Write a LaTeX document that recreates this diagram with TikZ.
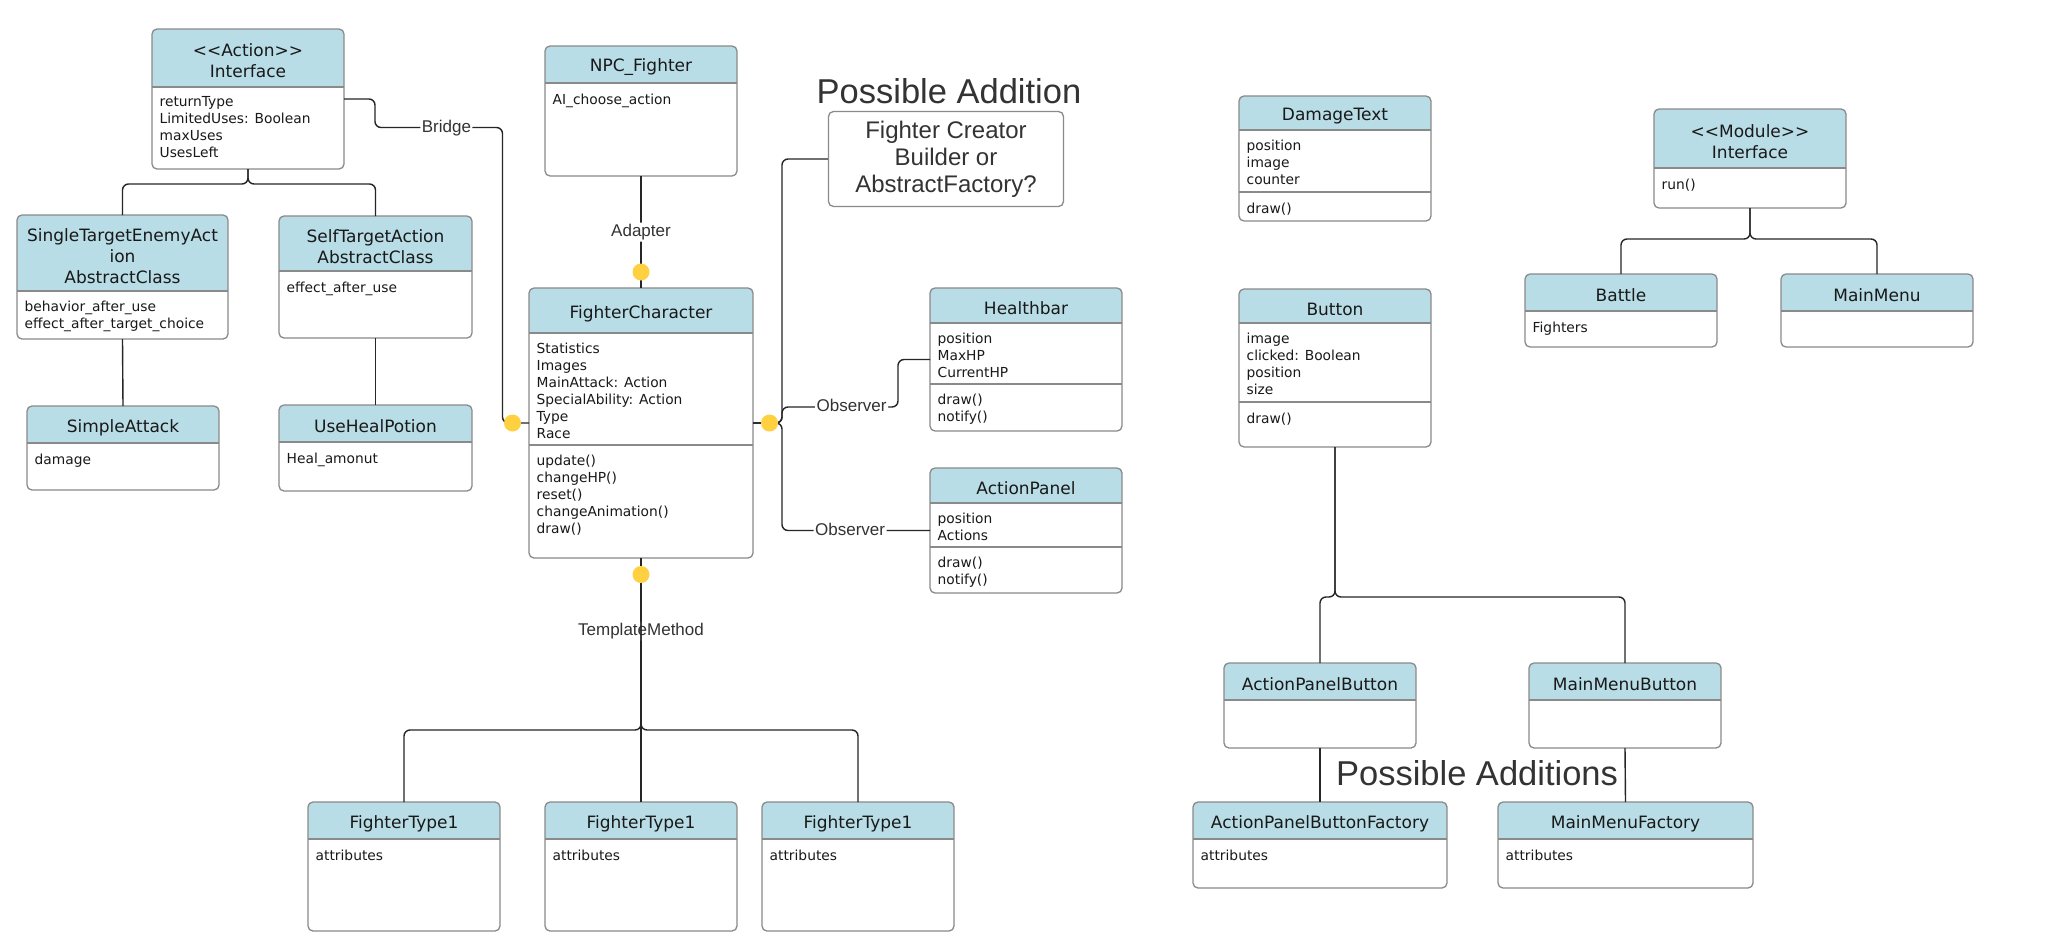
\documentclass[tikz,border=0pt]{standalone}
\usepackage{fontspec}
\setmainfont{DejaVu Sans}
\newfontfamily\labelfont{Liberation Sans}
\usepackage{tikz}

\definecolor{headblue}{HTML}{B8DDE6}
\definecolor{boxgray}{HTML}{8A8A8A}
\definecolor{dotyellow}{HTML}{FFD03F}
\definecolor{labelgray}{HTML}{333333}

\tikzset{
  classbox/.style={rectangle, anchor=north west, inner sep=0pt, outer sep=0pt, fill=white},
  classline/.style={draw=boxgray, line width=1.3pt},
  classname/.style={font=\fontsize{17}{21}\selectfont, align=center, inner sep=0pt, text=black!90},
  members/.style={font=\fontsize{13.8}{17}\selectfont, align=left, inner sep=0pt, anchor=north west, text=black!90, execute at begin node=\strut},
  conn/.style={draw=black!85, line width=1.4pt, rounded corners=6pt},
  joint/.style={circle, fill=dotyellow, minimum size=17pt, inner sep=0pt},
  patname/.style={font=\labelfont\fontsize{17}{20}\selectfont, text=labelgray, fill=white, inner sep=1.5pt, text height=12.5pt, text depth=3.5pt},
  bigtext/.style={font=\labelfont\fontsize{34.5}{40}\selectfont, text=labelgray, inner sep=0pt}
}

\newcommand{\umlclass}[6]{%
  \node[classbox, minimum width=#3pt, minimum height=#4pt] (#1) at (#2) {};
  \begin{scope}
    \clip[rounded corners=5pt] (#1.north west) rectangle (#1.south east);
    \fill[headblue] (#1.north west) rectangle ([yshift=-#5pt]#1.north east);
  \end{scope}
  \draw[classline] ([yshift=-#5pt]#1.north west) coordinate (#1-body) -- ([yshift=-#5pt]#1.north east);
  \draw[classline, rounded corners=5pt] (#1.north west) rectangle (#1.south east);
  \node[classname] at ([yshift=-#5pt/2-3pt]#1.north) {#6};
}
\newcommand{\umldivider}[2]{%
  \draw[classline] ([yshift=-#2pt]#1.north west) coordinate (#1-ops) -- ([yshift=-#2pt]#1.north east);
}

\begin{document}
\begin{tikzpicture}[x=1pt, y=-1pt]
  \fill[white] (0,0) rectangle (2065,935);
  \useasboundingbox (0,0) rectangle (2065,935);

  \umlclass{action}{152,29}{192}{140}{58}{<{}<Action>{}>\\Interface}
  \node[members] at ([shift={(7.5,9.5)}]action-body) {returnType\\LimitedUses: Boolean\\maxUses\\UsesLeft};
  \umlclass{single}{17,215}{211}{124}{76}{SingleTargetEnemyAct\\ion\\AbstractClass}
  \node[members] at ([shift={(7.5,9.5)}]single-body) {behavior\_after\_use\\effect\_after\_target\_choice};
  \umlclass{self}{279,216}{193}{122}{55}{SelfTargetAction\\AbstractClass}
  \node[members] at ([shift={(7.5,9.5)}]self-body) {effect\_after\_use};
  \umlclass{simple}{27,406}{192}{84}{37}{SimpleAttack}
  \node[members] at ([shift={(7.5,9.5)}]simple-body) {damage};
  \umlclass{heal}{279,405}{193}{86}{37}{UseHealPotion}
  \node[members] at ([shift={(7.5,9.5)}]heal-body) {Heal\_amonut};

  \umlclass{npc}{545,46}{192}{130}{37}{NPC\_Fighter}
  \node[members] at ([shift={(7.5,9.5)}]npc-body) {AI\_choose\_action};
  \umlclass{fighter}{529,288}{224}{270}{45}{FighterCharacter}
  \node[members] at ([shift={(7.5,9.5)}]fighter-body) {Statistics\\Images\\MainAttack: Action\\SpecialAbility: Action\\Type\\Race};
  \umldivider{fighter}{157}
  \node[members] at ([shift={(7.5,9.5)}]fighter-ops) {update()\\changeHP()\\reset()\\changeAnimation()\\draw()};

  \node[bigtext] (addition) at (949,91) {Possible Addition};
  \node[classline, rounded corners=5pt, minimum width=235pt, minimum height=95pt, inner sep=0pt,
    font=\labelfont\fontsize{24}{27}\selectfont, text=labelgray, align=center] (creator) at (946,159)
    {Fighter Creator\\Builder or\\AbstractFactory?};

  \umlclass{healthbar}{930,288}{192}{143}{35}{Healthbar}
  \node[members] at ([shift={(7.5,9.5)}]healthbar-body) {position\\MaxHP\\CurrentHP};
  \umldivider{healthbar}{96}
  \node[members] at ([shift={(7.5,9.5)}]healthbar-ops) {draw()\\notify()};
  \umlclass{actionpanel}{930,468}{192}{125}{35}{ActionPanel}
  \node[members] at ([shift={(7.5,9.5)}]actionpanel-body) {position\\Actions};
  \umldivider{actionpanel}{79}
  \node[members] at ([shift={(7.5,9.5)}]actionpanel-ops) {draw()\\notify()};

  \umlclass{type1}{308,802}{192}{129}{37}{FighterType1}
  \node[members] at ([shift={(7.5,9.5)}]type1-body) {attributes};
  \umlclass{type2}{545,802}{192}{129}{37}{FighterType1}
  \node[members] at ([shift={(7.5,9.5)}]type2-body) {attributes};
  \umlclass{type3}{762,802}{192}{129}{37}{FighterType1}
  \node[members] at ([shift={(7.5,9.5)}]type3-body) {attributes};

  \umlclass{damage}{1239,96}{192}{125}{34}{DamageText}
  \node[members] at ([shift={(7.5,9.5)}]damage-body) {position\\image\\counter};
  \umldivider{damage}{96}
  \node[members] at ([shift={(7.5,9.5)}]damage-ops) {draw()};
  \umlclass{button}{1239,289}{192}{158}{34}{Button}
  \node[members] at ([shift={(7.5,9.5)}]button-body) {image\\clicked: Boolean\\position\\size};
  \umldivider{button}{113}
  \node[members] at ([shift={(7.5,9.5)}]button-ops) {draw()};

  \umlclass{module}{1654,109}{192}{99}{59}{<{}<Module>{}>\\Interface}
  \node[members] at ([shift={(7.5,9.5)}]module-body) {run()};
  \umlclass{battle}{1525,274}{192}{73}{37}{Battle}
  \node[members] at ([shift={(7.5,9.5)}]battle-body) {Fighters};
  \umlclass{mainmenu}{1781,274}{192}{73}{37}{MainMenu}

  \umlclass{apbutton}{1224,663}{192}{85}{37}{ActionPanelButton}
  \umlclass{mmbutton}{1529,663}{192}{85}{37}{MainMenuButton}
  \node[bigtext] (additions) at (1477,773) {Possible Additions};
  \umlclass{apfactory}{1193,802}{254}{86}{37}{ActionPanelButtonFactory}
  \node[members] at ([shift={(7.5,9.5)}]apfactory-body) {attributes};
  \umlclass{mmfactory}{1498,802}{255}{86}{37}{MainMenuFactory}
  \node[members] at ([shift={(7.5,9.5)}]mmfactory-body) {attributes};

  \draw[conn] (action.south) -- ++(0,15) -| (single.north);
  \draw[conn] (action.south) -- ++(0,15) -| (self.north);
  \draw[conn] (single.south) -- (simple.north);
  \draw[conn] (self.south) -- (heal.north);
  \draw[conn] (action.east) -- ++(31,0) -- ++(0,28.5) -- node[patname, pos=.56] {Bridge} ++(127.5,0) |- (fighter.west);
  \draw[conn] (npc.south) -- node[patname] {Adapter} (fighter.north);
  \draw[conn] (fighter.east) -- ++(29,0) |- (creator.west);
  \draw[conn] (fighter.east) -- ++(29,0) |- node[patname, pos=.8] {Observer} ++(116,-16) |- (healthbar.west);
  \draw[conn] (fighter.east) -- ++(29,0) |- node[patname, pos=.73] {Observer} (actionpanel.west);
  \draw[conn] (fighter.south) -- node[patname, pos=.3] {TemplateMethod} (type2.north);
  \draw[conn] (fighter.south) -- ++(0,172) -| (type1.north);
  \draw[conn] (fighter.south) -- ++(0,172) -| (type3.north);
  \draw[conn] (module.south) -- ++(0,31) -| (battle.north);
  \draw[conn] (module.south) -- ++(0,31) -| (mainmenu.north);
  \draw[conn] (button.south) -- ++(0,150) -| (apbutton.north);
  \draw[conn] (button.south) -- ++(0,150) -| (mmbutton.north);
  \draw[conn] (apbutton.south) -- (apfactory.north);
  \draw[conn] (mmbutton.south) -- (mmfactory.north);

  \node[joint] (jleft) at ([xshift=-16.5pt]fighter.west) {};
  \node[joint] (jright) at ([xshift=16.5pt]fighter.east) {};
  \node[joint] (jtop) at ([yshift=16pt]fighter.north) {};
  \node[joint] (jbottom) at ([yshift=-16.5pt]fighter.south) {};
\end{tikzpicture}
\end{document}
